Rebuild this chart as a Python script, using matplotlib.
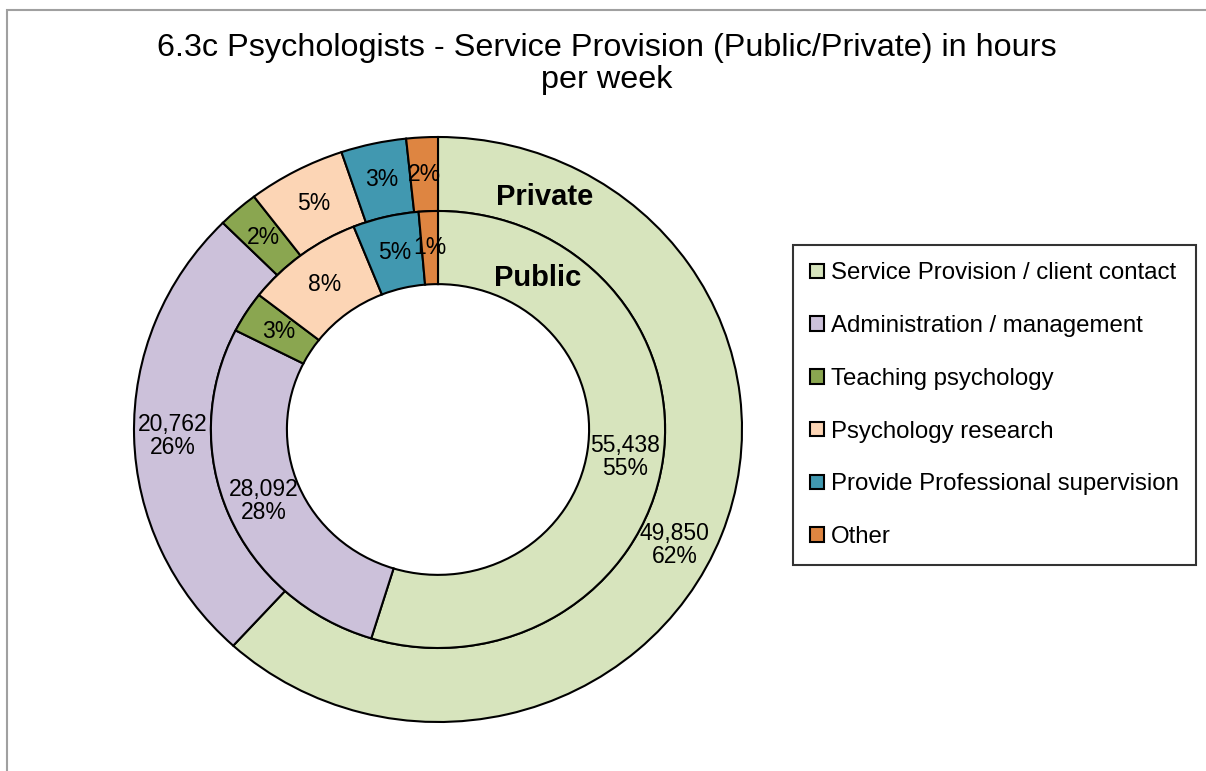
import numpy as np
import matplotlib.pyplot as plt
from matplotlib.patches import Rectangle

plt.rcParams['font.family'] = ['Liberation Sans', 'DejaVu Sans']

categories = ["Service Provision / client contact", "Administration / management",
              "Teaching psychology", "Psychology research",
              "Provide Professional supervision", "Other"]
public_hours = [55438, 28092, 3100, 8500, 4750, 1380]
private_hours = [49850, 20762, 1750, 4200, 2800, 1350]
colors = ["#D7E4BD", "#CCC1DA", "#8AA650", "#FCD5B5", "#4198B0", "#DE8541"]

W, H = 1206, 771
fig = plt.figure(figsize=(W / 100, H / 100), dpi=100)

# donut centre and radii in pixels (it is slightly wider than tall)
cx, cy, rx, ry = 438, 429.5, 304, 292.5
L = 1.05
ax = fig.add_axes([(cx - L * rx) / W, (H - cy - L * ry) / H, 2 * L * rx / W, 2 * L * ry / H])


def make_fmt(vals):
    total = sum(vals)

    def fmt(pct):
        v = pct * total / 100
        if pct > 20:
            return f"{v:,.0f}\n{pct:.0f}%"
        return f"{pct:.0f}%"
    return fmt


edge = dict(edgecolor="black", linewidth=1.5)
r_out, r_in, hole = 1.0, 0.747, 0.497

wedges, _, t_out = ax.pie(private_hours, colors=colors, radius=r_out, startangle=90,
                          counterclock=False, wedgeprops=dict(width=r_out - r_in, **edge),
                          autopct=make_fmt(private_hours), pctdistance=(r_out + r_in) / 2 / r_out,
                          textprops=dict(fontsize=16.5))
_, _, t_in = ax.pie(public_hours, colors=colors, radius=r_in, startangle=90,
                    counterclock=False, wedgeprops=dict(width=r_in - hole, **edge),
                    autopct=make_fmt(public_hours), pctdistance=(r_in + hole) / 2 / r_in,
                    textprops=dict(fontsize=16.5))
for t in list(t_out) + list(t_in):
    t.set_linespacing(1.0)

# Excel puts the outer service label a bit further round the ring
a = np.radians(117)
rm = (r_out + r_in) / 2
t_out[0].set_position((rm * np.sin(a), rm * np.cos(a)))

ax.set_aspect('auto')
ax.set_xlim(-L, L)
ax.set_ylim(-L, L)

ax.text(0.352, 0.795, "Private", ha='center', va='center', fontsize=21, fontweight='bold')
ax.text(0.329, 0.518, "Public", ha='center', va='center', fontsize=21, fontweight='bold')

fig.text(607 / W, 1 - 33 / H, "6.3c Psychologists - Service Provision (Public/Private) in hours\nper week",
         ha='center', va='top', fontsize=23.3, linespacing=1.08)

leg = fig.legend(wedges, categories, loc='upper left', bbox_to_anchor=(793 / W, 1 - 245 / H),
                 fontsize=17.3, frameon=True, fancybox=False, edgecolor='black',
                 handlelength=0.55, handleheight=0.55, handletextpad=0.3,
                 labelspacing=1.28, borderpad=0.72, borderaxespad=0)
leg.get_frame().set_linewidth(1.5)

# chart-area border (only top and left edges are visible)
fig.patches.append(Rectangle((7 / W, -0.1), 1.1, 1.1 - 10 / H, transform=fig.transFigure,
                             fill=False, edgecolor='#a0a0a0', linewidth=1.5))

fig.savefig("out.png", dpi=100)
